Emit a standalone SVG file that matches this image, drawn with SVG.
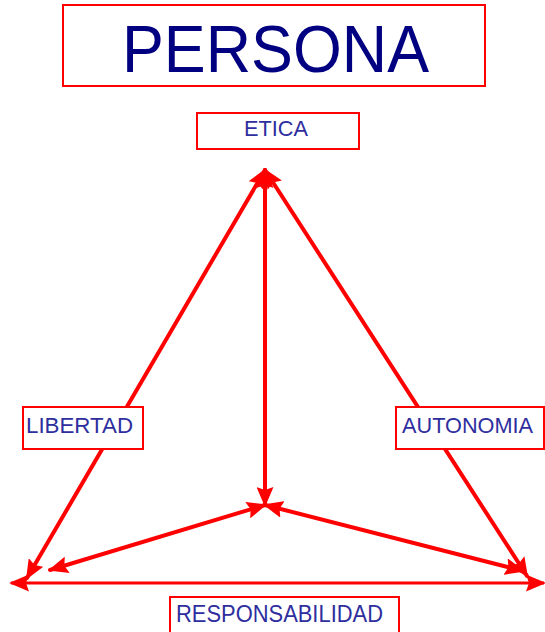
<svg xmlns="http://www.w3.org/2000/svg" width="545" height="632" viewBox="0 0 545 632">
<defs>
<style>
.box{fill:#fff;stroke:#ff0000;stroke-width:2}
.lbl{font-family:"Liberation Sans",Arial,sans-serif;fill:#2e2e9e}
.title{font-family:"Liberation Sans",Arial,sans-serif;fill:#000080}
.edge{stroke:#ff0000;stroke-width:4;fill:none;stroke-linecap:round}
.base{stroke:#ff0000;stroke-width:3;fill:none}
</style>
<marker id="ah" viewBox="0 0 10 10" refX="9" refY="5" markerWidth="20" markerHeight="17" markerUnits="userSpaceOnUse" orient="auto-start-reverse" preserveAspectRatio="none">
<path d="M0,0 L10,5 L0,10 L1.5,5 Z" fill="#ff0000"/>
</marker>
</defs>
<rect width="545" height="632" fill="#fff"/>
<g id="connectors">
<line class="edge" x1="265" y1="170" x2="265" y2="505" marker-start="url(#ah)" marker-end="url(#ah)"/>
<line class="edge" x1="265" y1="170" x2="27" y2="578" marker-start="url(#ah)" marker-end="url(#ah)"/>
<line class="edge" x1="265" y1="170" x2="527" y2="576" marker-start="url(#ah)" marker-end="url(#ah)"/>
<line class="edge" x1="265" y1="505" x2="50" y2="570" marker-start="url(#ah)" marker-end="url(#ah)"/>
<line class="edge" x1="265" y1="505" x2="523" y2="571" marker-start="url(#ah)" marker-end="url(#ah)"/>
<line class="base" x1="11" y1="583" x2="544" y2="583" marker-start="url(#ah)" marker-end="url(#ah)"/>
</g>
<g id="persona">
<rect class="box" x="63" y="5" width="422" height="81"/>
<text class="title" x="275.5" y="72" font-size="66" text-anchor="middle" textLength="307" lengthAdjust="spacingAndGlyphs">PERSONA</text>
</g>
<g id="etica">
<rect class="box" x="197" y="113" width="162" height="36"/>
<text class="lbl" x="276" y="136" font-size="22" text-anchor="middle" textLength="64" lengthAdjust="spacingAndGlyphs">ETICA</text>
</g>
<g id="libertad">
<rect class="box" x="23" y="407" width="120" height="42"/>
<text class="lbl" x="79.5" y="433" font-size="22" text-anchor="middle" textLength="107" lengthAdjust="spacingAndGlyphs">LIBERTAD</text>
</g>
<g id="autonomia">
<rect class="box" x="396" y="407" width="148" height="42"/>
<text class="lbl" x="467.5" y="433" font-size="22" text-anchor="middle" textLength="131" lengthAdjust="spacingAndGlyphs">AUTONOMIA</text>
</g>
<g id="responsabilidad">
<rect class="box" x="170" y="597" width="229" height="40"/>
<text class="lbl" x="279.5" y="622" font-size="23" text-anchor="middle" textLength="207" lengthAdjust="spacingAndGlyphs">RESPONSABILIDAD</text>
</g>
</svg>
